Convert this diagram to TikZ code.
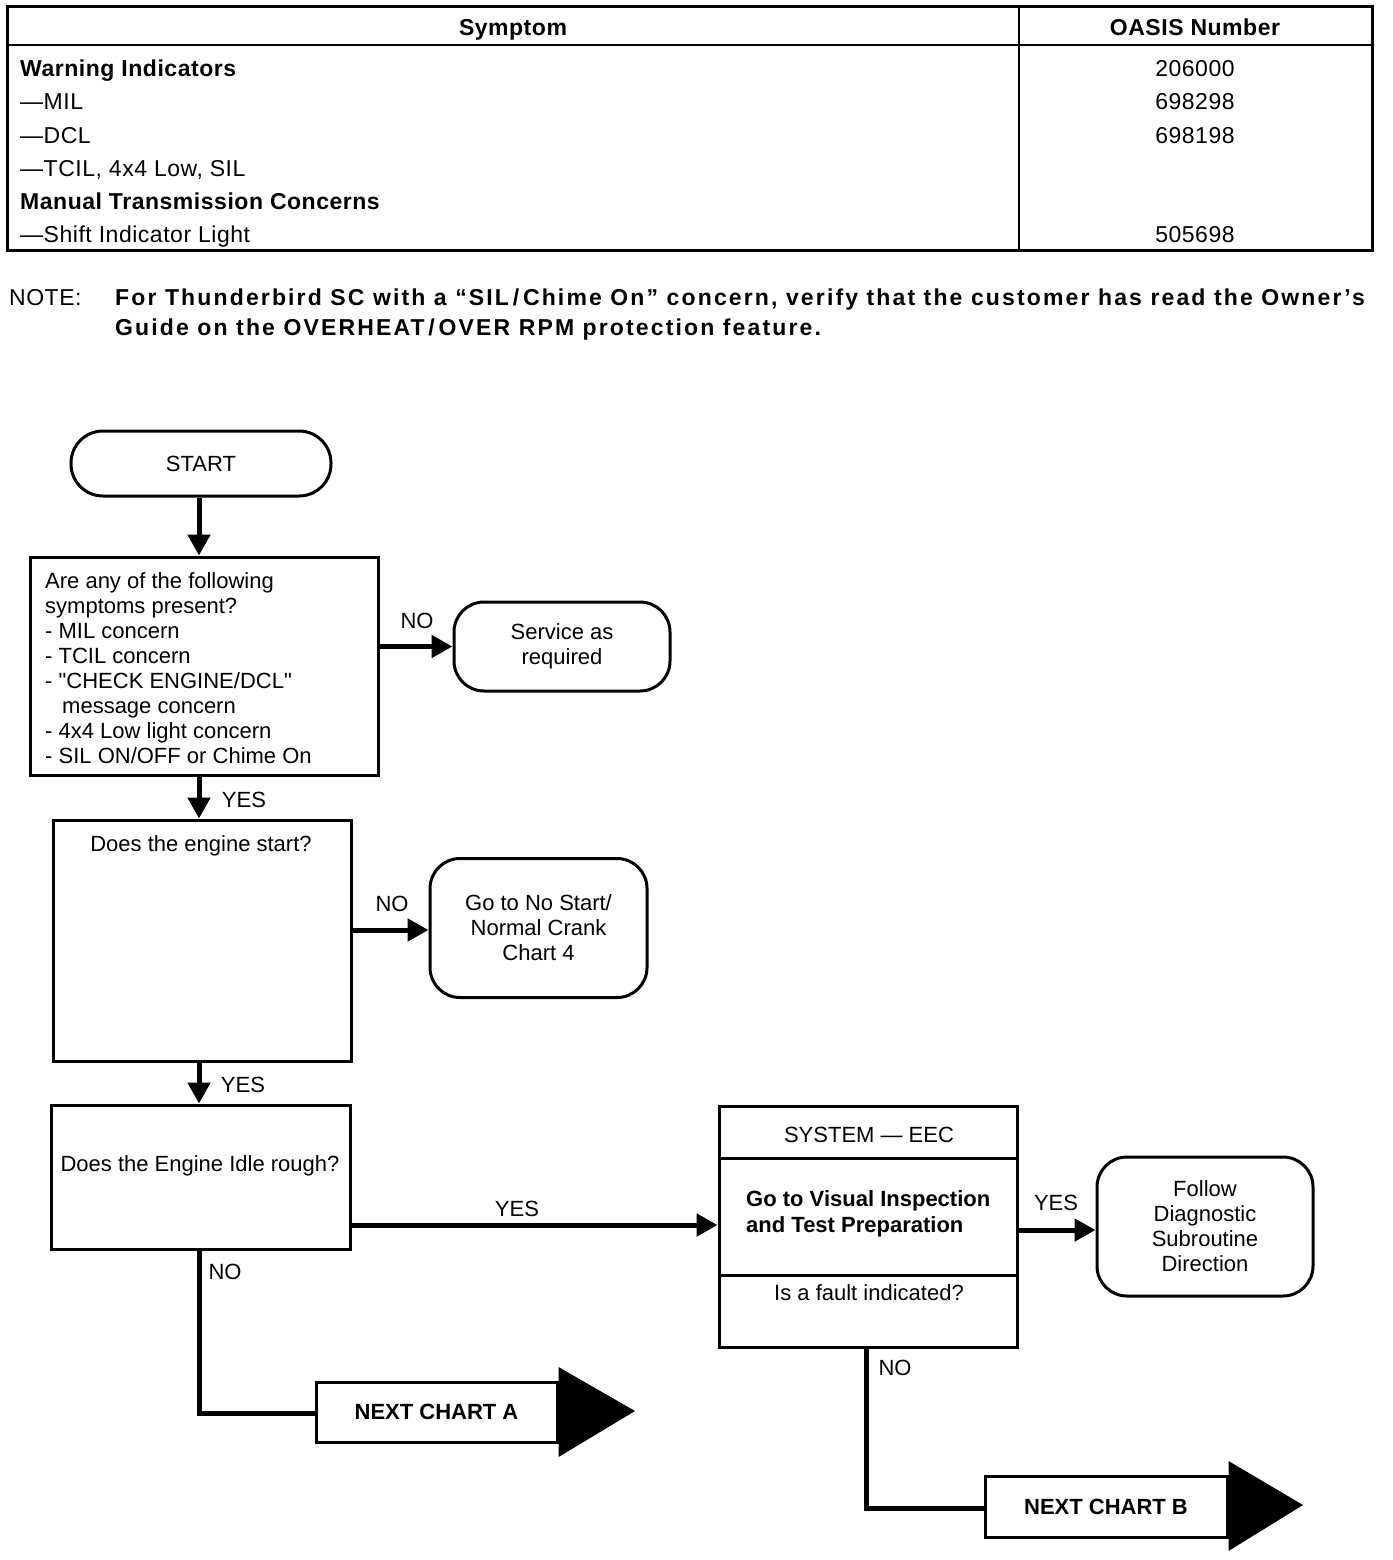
\documentclass[tikz,border=0pt]{standalone}
\usepackage{fontspec}
\setmainfont{Liberation Sans}
\usetikzlibrary{arrows.meta}
\newcommand{\tabfont}{\fontsize{23}{27}\selectfont\addfontfeature{LetterSpace=2.3}}
\newcommand{\notefont}{\fontsize{23}{27}\selectfont\bfseries\addfontfeature{LetterSpace=9.3}}
\newcommand{\flowfont}{\fontsize{22}{25}\selectfont}
\begin{document}
\begin{tikzpicture}[x=1pt,y=-1pt,
  tabtxt/.style={font=\tabfont,inner sep=0pt,anchor=base west},
  tabbold/.style={font=\tabfont\bfseries,inner sep=0pt,anchor=base west},
  tabnum/.style={font=\tabfont,inner sep=0pt,anchor=base},
  boxed/.style={draw,line width=3pt,inner sep=0pt},
  rounded/.style={draw,line width=3pt,inner sep=0pt,rounded corners=30pt,align=center,font=\flowfont},
  ftxt/.style={font=\flowfont,inner sep=0pt},
  lbl/.style={font=\flowfont,inner sep=0pt},
  flow/.style={line width=5pt,-{Triangle[length=21pt,width=22pt]}},
  plain/.style={line width=5pt},
  nextbox/.style={draw,line width=3pt,inner sep=0pt,font=\bfseries\flowfont},
]
\useasboundingbox (0,0) rectangle (1392,1560);

% ---------------- table ----------------
\node[draw,line width=3pt,minimum width=1365pt,minimum height=243pt,inner sep=0pt] (tbl) at (689.5,128.5) {};
\draw[line width=2.5pt] (tbl.west |- 0,45) -- (tbl.east |- 0,45);
\draw[line width=2pt] (1019,0 |- tbl.north) -- (1019,0 |- tbl.south);
\node[tabnum,font=\tabfont\bfseries] (hs) at (513,36) {Symptom};
\node[tabnum,font=\tabfont\bfseries] (ho) at (1195,36) {OASIS Number};
\node[tabbold] (r1) at (20,77) {Warning Indicators};
\node[tabtxt] (r2) at (20,110) {—MIL};
\node[tabtxt] (r3) at (20,143) {—DCL};
\node[tabtxt] (r4) at (20,176) {—TCIL, 4x4 Low, SIL};
\node[tabbold] (r5) at (20,209) {Manual Transmission Concerns};
\node[tabtxt] (r6) at (20,242) {—Shift Indicator Light};
\node[tabnum] (n1) at (1195,77) {206000};
\node[tabnum] (n2) at (1195,110) {698298};
\node[tabnum] (n3) at (1195,143) {698198};
\node[tabnum] (n6) at (1195,242) {505698};

% ---------------- note ----------------
\node[tabtxt] (note) at (9,305) {NOTE:};
\node[inner sep=0pt,anchor=base west,font=\notefont] (note1) at (115,305) {For Thunderbird SC with a “SIL\,/\,Chime On” concern, verify that the customer has read the Owner’s};
\node[inner sep=0pt,anchor=base west,font=\notefont] (note2) at (115,335) {Guide on the OVERHEAT\,/\,OVER RPM protection feature.};

% ---------------- flowchart ----------------
\node[rounded,rounded corners=32pt,minimum width=260pt,minimum height=65pt] (start) at (201,463.5) {START};

\node[boxed,minimum width=348pt,minimum height=218pt] (q1) at (204,666) {};
\node[ftxt,anchor=north west,align=left] (q1t) at (45,572) {Are any of the following\\symptoms present?\\- MIL concern\\- TCIL concern\\- \textquotedbl CHECK ENGINE/DCL\textquotedbl\\\hspace*{17pt}message concern\\- 4x4 Low light concern\\- SIL ON/OFF or Chime On};

\node[rounded,minimum width=216pt,minimum height=89pt] (svc) at (562,646.5) {Service as\\required};

\node[boxed,minimum width=298pt,minimum height=241pt] (q2) at (202,940.5) {};
\node[ftxt] (q2t) at (201,846) {Does the engine start?};

\node[rounded,minimum width=217pt,minimum height=139pt] (nostart) at (538.5,928) {Go to No Start/\\Normal Crank\\Chart 4};

\node[boxed,minimum width=299pt,minimum height=144pt] (q3) at (200.5,1177) {};
\node[ftxt] (q3t) at (200,1166) {Does the Engine Idle rough?};

\node[boxed,minimum width=298pt,minimum height=241pt] (eec) at (868,1226.5) {};
\draw[line width=3pt] (eec.west |- 0,1158) -- (eec.east |- 0,1158);
\draw[line width=3pt] (eec.west |- 0,1275) -- (eec.east |- 0,1275);
\node[ftxt] (eect) at (869,1135) {SYSTEM — EEC};
\node[ftxt,anchor=north west,align=left,font=\bfseries\fontsize{22}{26}\selectfont] (eecg) at (746,1190) {Go to Visual Inspection\\and Test Preparation};
\node[ftxt] (eecq) at (869,1293) {Is a fault indicated?};

\node[rounded,minimum width=216pt,minimum height=139pt] (follow) at (1205,1226.5) {Follow\\Diagnostic\\Subroutine\\Direction};

\node[nextbox,minimum width=241pt,minimum height=60pt] (nexta) at (436.5,1412) {NEXT CHART A};
\fill (nexta.east |- 0,1367) -- (635,1411) -- (nexta.east |- 0,1457) -- cycle;
\node[nextbox,minimum width=242pt,minimum height=61pt] (nextb) at (1106,1506.5) {NEXT CHART B};
\fill (nextb.east |- 0,1461) -- (1303,1505) -- (nextb.east |- 0,1551) -- cycle;

% connectors
\draw[flow] (199,0 |- start.south) -- (199,0 |- q1.north);
\draw[flow] (q1.east |- svc.west) -- (svc.west);
\node[lbl] (lno1) at (417,621) {NO};
\draw[flow] (199,0 |- q1.south) -- (199,0 |- q2.north);
\node[lbl] (lyes1) at (244,800) {YES};
\draw[flow] (q2.east |- 0,930) -- (nostart.west |- 0,930);
\node[lbl] (lno2) at (392,904) {NO};
\draw[flow] (199,0 |- q2.south) -- (199,0 |- q3.north);
\node[lbl] (lyes2) at (243,1085) {YES};
\draw[flow] (q3.east |- 0,1225) -- (eec.west |- 0,1225);
\node[lbl] (lyes3) at (517,1209) {YES};
\draw[plain] (199,0 |- q3.south) -- (199,1413) -- (nexta.west |- 0,1413);
\node[lbl] (lno3) at (225,1272) {NO};
\draw[flow] (eec.east |- 0,1230) -- (follow.west |- 0,1230);
\node[lbl] (lyes4) at (1056,1203) {YES};
\draw[plain] (866,0 |- eec.south) -- (866,1508) -- (nextb.west |- 0,1508);
\node[lbl] (lno4) at (895,1368) {NO};
\end{tikzpicture}
\end{document}
